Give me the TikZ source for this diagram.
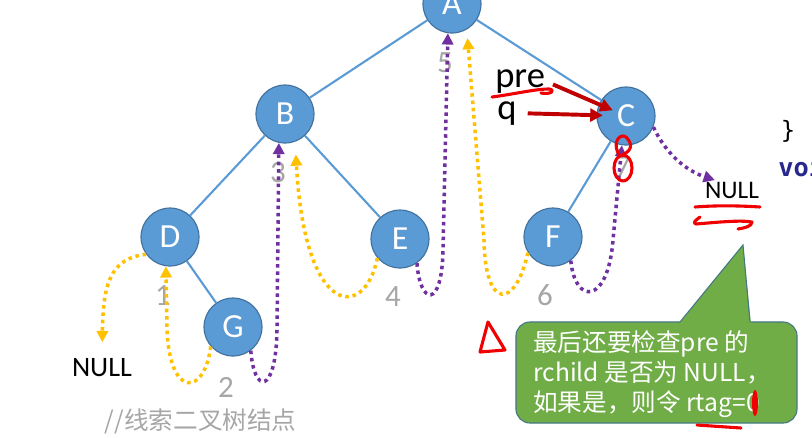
\documentclass[tikz,border=0pt]{standalone}
\usepackage{fontspec}
\setmainfont{Carlito}
\newfontfamily\cjk{Noto Sans CJK SC}
\newfontfamily\codefont{DejaVu Sans Mono}
\usetikzlibrary{arrows.meta, calc}
\definecolor{nodeBlue}{RGB}{91,155,213}
\definecolor{nodeLine}{RGB}{65,113,156}
\definecolor{threadGold}{RGB}{255,192,0}
\definecolor{threadPurple}{RGB}{112,48,160}
\definecolor{numGray}{RGB}{166,166,166}
\definecolor{tipGreen}{RGB}{112,173,71}
\definecolor{tipLine}{RGB}{70,120,130}
\definecolor{arrowRed}{RGB}{192,0,0}
\definecolor{inkRed}{RGB}{240,0,0}
\definecolor{codeBlue}{RGB}{40,40,140}

\begin{document}
\begin{tikzpicture}[
    x=0.025cm, y=-0.025cm,
    tnode/.style={circle, draw=nodeLine, line width=0.8pt, fill=nodeBlue, minimum size=1.45cm, inner sep=0pt, text=white, font=\fontsize{24}{28}\selectfont},
    link/.style={draw=nodeBlue, line width=1.5pt},
    thread/.style={line width=2.5pt, dash pattern=on 2.5pt off 2.7pt, -{Triangle[length=8pt, width=8pt]}},
    ythread/.style={thread, threadGold},
    pthread/.style={thread, threadPurple},
    num/.style={anchor=base, text=numGray, font=\fontsize{22}{26}\selectfont},
    txt/.style={anchor=base, inner sep=1pt},
    redarrow/.style={arrowRed, line width=2.8pt, -{Triangle[length=9pt, width=9pt]}},
    ink/.style={inkRed, line width=2.2pt, line cap=round, line join=round},
    tipbox/.style={rectangle, rounded corners=10pt, draw=tipLine, fill=tipGreen, line width=0.8pt, minimum width=7.025cm, minimum height=2.525cm},
    tiptext/.style={anchor=west, inner sep=0pt, align=left, text=white, font=\cjk\fontsize{17.5}{21.5}\selectfont}
]
\useasboundingbox (0,0) rectangle (812,437);

\node[tnode] (A) at (452,4) {A};
\node[tnode] (B) at (285,114) {B};
\node[tnode] (C) at (626,116) {C};
\node[tnode] (D) at (170,237) {D};
\node[tnode] (E) at (400,239) {E};
\node[tnode] (F) at (553,237) {F};
\node[tnode] (G) at (233,327) {G};

\draw[link] (A) -- (B);
\draw[link] (A) -- (C);
\draw[link] (B) -- (D);
\draw[link] (B) -- (E);
\draw[link] (C) -- (F);
\draw[link] (D) -- (G);

\node[txt, font=\fontsize{20}{24}\selectfont] (nullL) at (102,376) {NULL};
\node[txt, font=\fontsize{18}{22}\selectfont] (nullR) at (732,198) {NULL};

\node[num] (n1) at (163,305) {1};
\node[num] (n2) at (226,397) {2};
\node[num] (n3) at (278,182) {3};
\node[num] (n4) at (393,306) {4};
\node[num] (n5) at (445,72) {5};
\node[num] (n6) at (545,305) {6};
\node[num] (n7) at (623,176) {7};

\draw[ythread, shorten >=10pt] (D.216) .. controls (110,258) and (103,285) .. (nullL);
\draw[ythread] (G.221) .. controls (205,395) and (170,400) .. (167,330) -- (D.262);
\draw[pthread] (G.307) .. controls (254,395) and (276,395) .. (277,330) -- (B.258);
\draw[ythread, shorten >=9pt] (E.220) .. controls (365,320) and (305,320) .. (B.290);
\draw[pthread] (E.305) .. controls (420,305) and (442,310) .. (443,250) -- (A.262);
\draw[ythread, shorten >=6pt] (F.212) .. controls (515,310) and (485,310) .. (484,240) -- (A.300);
\draw[pthread] (F.307) .. controls (575,305) and (608,305) .. (613,240) -- (C.262);
\draw[pthread] (C.338) .. controls (668,158) and (690,172) .. (nullR.150);

\node[anchor=base west, inner sep=0pt, font=\fontsize{26}{30}\selectfont] (pre) at (495,87) {pre};
\node[anchor=base west, inner sep=0pt, font=\fontsize{26}{30}\selectfont] (q) at (497,119) {q};
\draw[redarrow, shorten <=6pt, shorten >=10.2pt] (pre.east) -- (C.center);
\draw[redarrow, shorten <=7.8pt, shorten >=16.4pt] (q.east) -- (C.center);

\node[tipbox] (tip) at (656.5,372.5) {};
\fill[tipGreen] (678,325) -- (743,245) -- (751,325) -- cycle;
\draw[tipLine, line width=0.8pt] (680,322) -- (743,245) -- (750,322);
\node[tiptext] (tiptxt) at (533,374) {最后还要检查pre 的\\rchild 是否为 NULL，\\如果是，则令 rtag=0};

\node[anchor=west, text=numGray, font=\cjk\fontsize{17.5}{21}\selectfont] (caption) at (100,421) {//线索二叉树结点};

\node[anchor=base, inner sep=0pt, font=\codefont\fontsize{17}{20}\selectfont] (brace) at (788,138) {\}};
\node[anchor=base west, inner sep=0pt, text=codeBlue, font=\codefont\bfseries\fontsize{18}{22}\selectfont] (voi) at (778,176) {voi};

\draw[ink] (492,97) .. controls (515,94) and (535,89) .. (549,89) .. controls (556,90) and (551,95) .. (541,93);
\draw[ink] (488,322) -- (480,352) -- (505,350) -- cycle;
\draw[ink] (618,153) .. controls (612,140) and (622,132) .. (627,138) .. controls (633,145) and (632,152) .. (619,156);
\draw[ink] (623,168) ellipse [x radius=9, y radius=13];
\draw[ink] (695,207) .. controls (720,205) and (745,206) .. (760,207);
\draw[ink] (700,217) .. controls (696,220) and (692,223) .. (696,224) .. controls (720,222) and (740,220) .. (752,222) .. controls (752,226) and (745,228) .. (738,229);
\draw[ink] (697,425) -- (741,428);
\fill[inkRed] (755,403) ellipse [x radius=3, y radius=13];

\end{tikzpicture}
\end{document}
